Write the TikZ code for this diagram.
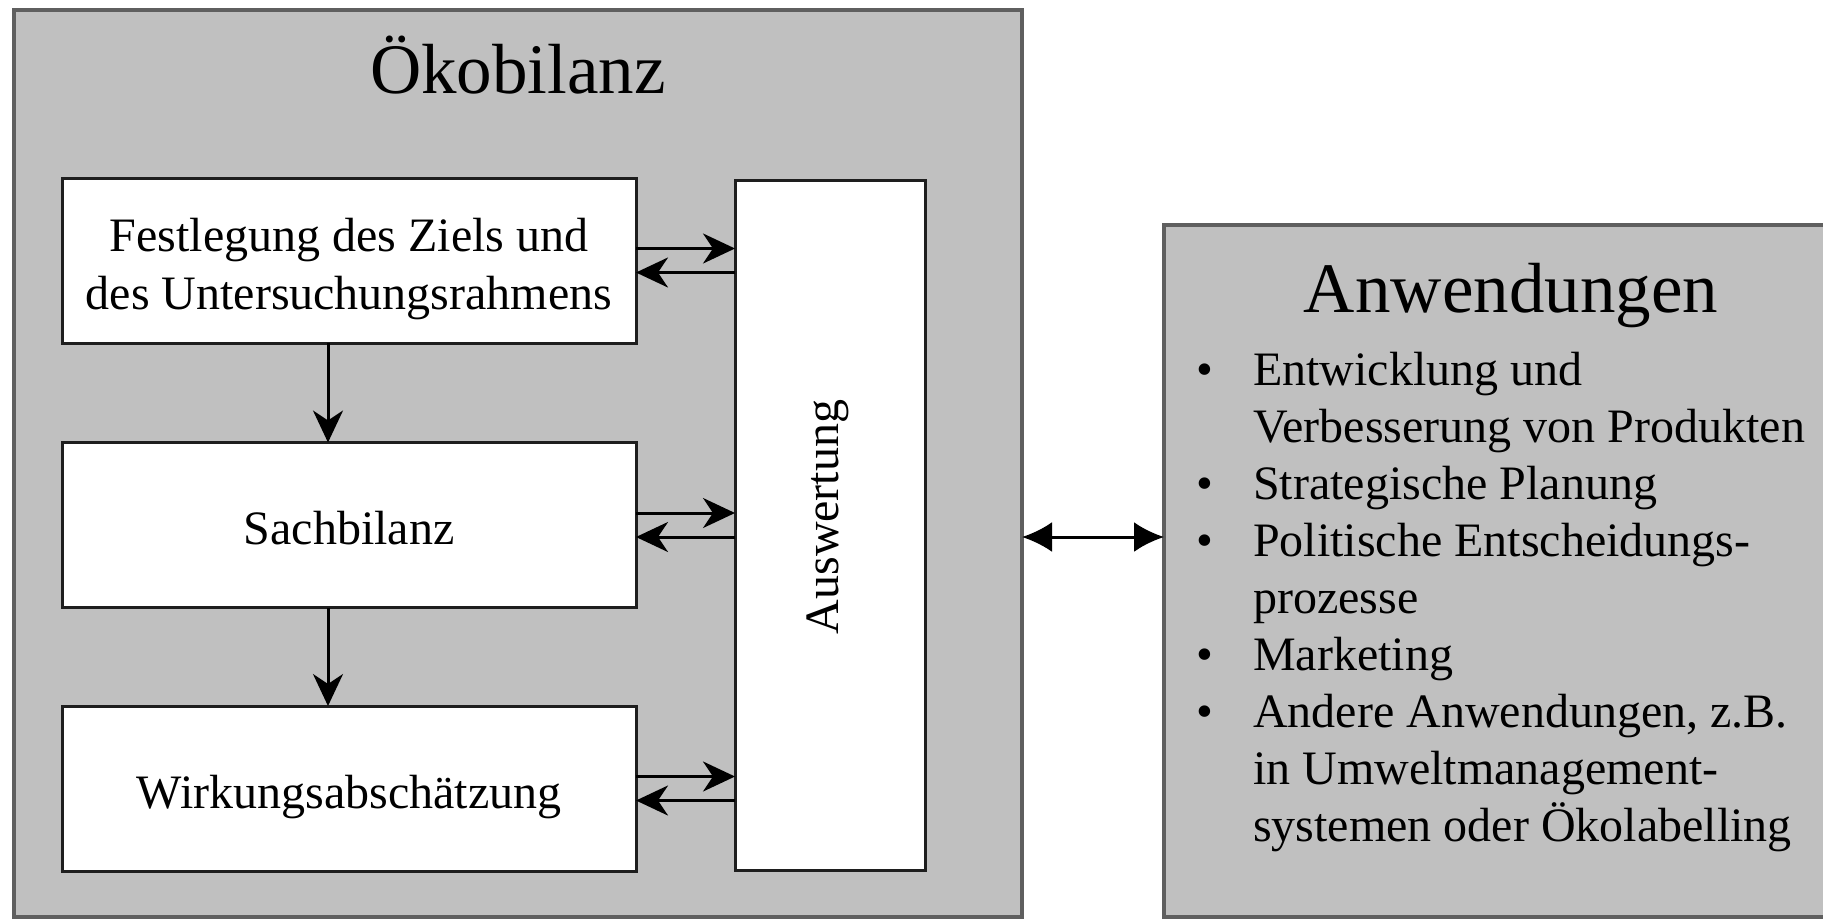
\documentclass[tikz,border=0pt]{standalone}
\usepackage{fontspec}
\setmainfont{Liberation Serif}
\usetikzlibrary{arrows.meta,calc}
\definecolor{panelgray}{RGB}{192,192,192}
\definecolor{panelborder}{RGB}{95,95,95}
\definecolor{boxborder}{RGB}{30,30,30}
\newcommand{\bxfont}{\fontsize{48}{58}\selectfont}
\newcommand{\lsfont}{\fontsize{48}{57}\selectfont}
\newcommand{\ttlfont}{\fontsize{71}{80}\selectfont}
\begin{document}
\begin{tikzpicture}[x=1pt,y=-1pt,
  panel/.style={draw=panelborder, fill=panelgray, line width=3.5pt, inner sep=0pt, outer sep=0pt},
  stepbox/.style={draw=boxborder, fill=white, line width=3pt, inner sep=0pt, outer sep=0pt,
    minimum width=574pt, minimum height=165pt, align=center, font=\bxfont},
  conn/.style={draw=black, line width=3pt, -{Stealth[length=32pt,width=30pt,inset=10pt]}},
  bothway/.style={draw=black, line width=3pt, {Latex[length=30pt,width=30pt]}-{Latex[length=30pt,width=30pt]}}
]
\useasboundingbox (0,0) rectangle (1823,919);
\clip (0,0) rectangle (1823,919);

% left panel
\node[panel, minimum width=1008pt, minimum height=907pt] (oeko) at (518,463.5) {};
\node[font=\ttlfont, anchor=base, inner sep=0pt] (oekot) at (518,93) {Ökobilanz};

\node[stepbox] (b1) at (349,260.5) {\rule{0pt}{51pt}Festlegung des Ziels und\\des Untersuchungsrahmens};
\node[stepbox] (b2) at (349,525) {\rule{0pt}{40pt}Sachbilanz};
\node[stepbox] (b3) at (349,788.5) {\rule{0pt}{51pt}Wirkungsabschätzung};

\node[draw=boxborder, fill=white, line width=3pt, inner sep=0pt, outer sep=0pt,
      minimum width=190pt, minimum height=690pt] (aus) at (830,525) {};
\node[rotate=90, font=\bxfont, inner sep=0pt] (ausl) at (828,517) {Auswertung};

% right panel
\node[panel, minimum width=670pt, minimum height=692pt] (app) at (1499,571) {};
\node[font=\ttlfont, anchor=base, inner sep=0pt] (appt) at (1511,312) {Anwendungen};
\node[anchor=base west, font=\lsfont, inner sep=0pt] (list) at (1196,385) {%
\begin{tabular}[t]{@{}l@{}l@{}}
\makebox[57pt][l]{\textbullet} & Entwicklung und\\
 & Verbesserung von Produkten\\
\textbullet & Strategische Planung\\
\textbullet & Politische Entscheidungs-\\
 & prozesse\\
\textbullet & Marketing\\
\textbullet & Andere Anwendungen, z.B.\\
 & in Umweltmanagement-\\
 & systemen oder Ökolabelling
\end{tabular}};

% connectors between steps and Auswertung
\foreach \b in {b1,b2,b3}{
  \draw[conn] ($(\b.east)+(0,-12)$) -- ($(\b.east -| aus.west)+(0,-12)$);
  \draw[conn] ($(\b.east -| aus.west)+(0,12)$) -- ($(\b.east)+(0,12)$);
}
% downward arrows
\draw[conn] ($(b1.south)+(-21,0)$) -- ($(b2.north)+(-21,0)$);
\draw[conn] ($(b2.south)+(-21,0)$) -- ($(b3.north)+(-21,0)$);

% two-way arrow between panels
\coordinate (dy) at (0,537);
\draw[bothway] (oeko.east |- dy) -- (app.west |- dy);
\end{tikzpicture}
\end{document}
